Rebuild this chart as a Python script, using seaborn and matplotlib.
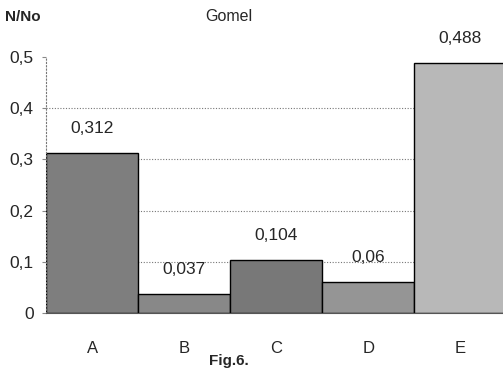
import numpy as np
import pandas as pd
from matplotlib import pyplot as plt
import seaborn as sns

categories = ['A', 'B', 'C', 'D', 'E']
values = [0.312, 0.037, 0.104, 0.06, 0.488]
value_labels = ['0,312', '0,037', '0,104', '0,06', '0,488']
bar_colors = ['#7e7e7e', '#888888', '#787878', '#959595', '#b8b8b8']
y_ticks = [0, 0.1, 0.2, 0.3, 0.4, 0.5]
y_tick_labels = ['0', '0,1', '0,2', '0,3', '0,4', '0,5']


def make_frame(cats, vals):
    return pd.DataFrame({'category': cats, 'value': vals})


if __name__ == '__main__':
    sns.set_style('white')
    plt.rcParams['font.family'] = ['Liberation Sans', 'DejaVu Sans']

    data = make_frame(categories, values)
    fig = plt.figure(figsize=(5.03, 3.75), dpi=100)
    ax = fig.add_axes([0.0915, 0.165, 0.915, 0.683])

    sns.barplot(data=data, x='category', y='value', hue='category',
                palette=bar_colors, width=1.0, edgecolor='black',
                linewidth=1.0, legend=False, ax=ax, zorder=2)

    for i, (v, lab) in enumerate(zip(values, value_labels)):
        ax.text(i, v + 0.033, lab, ha='center', va='bottom', fontsize=12.5)

    ax.set_ylim(0, 0.5)
    ax.set_xlim(-0.5, 4.5)
    ax.set_yticks(y_ticks)
    ax.set_yticklabels(y_tick_labels, fontsize=12.5)
    ax.tick_params(axis='x', labelsize=12, pad=20, length=0)
    ax.tick_params(axis='y', length=3, color='#888888', left=True, pad=6)
    for y in y_ticks[1:5]:
        ax.axhline(y, color='#777777', linestyle=(0, (1, 1.5)), linewidth=0.8, zorder=1)

    for s in ['top', 'right']:
        ax.spines[s].set_visible(False)
    ax.spines['left'].set_linestyle((0, (1, 2)))
    ax.spines['left'].set_color('#777777')
    ax.spines['bottom'].set_color('#555555')
    ax.set_xlabel('')
    ax.set_ylabel('')

    fig.text(0.01, 0.955, 'N/No', fontsize=11, fontweight='bold', va='center')
    fig.text(0.455, 0.955, 'Gomel', fontsize=11.5, ha='center', va='center')
    fig.text(0.455, 0.037, 'Fig.6.', fontsize=11, fontweight='bold', ha='center', va='center')

    fig.savefig('out.png', dpi=100)
